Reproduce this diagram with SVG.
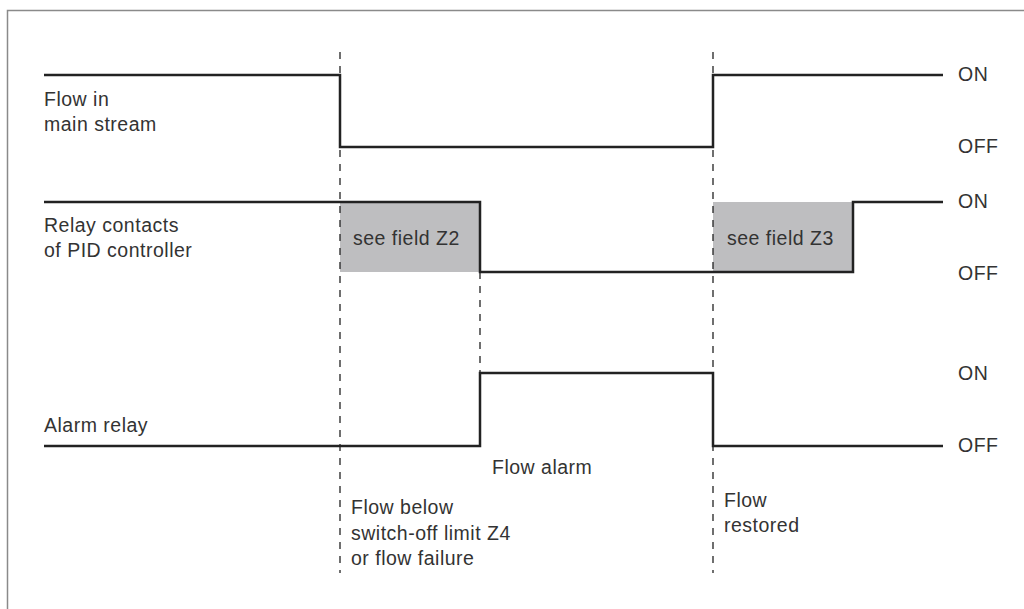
<svg xmlns="http://www.w3.org/2000/svg" width="1024" height="609" viewBox="0 0 1024 609">
<style>
.frame{fill:none;stroke:#8a8a8a;stroke-width:1.5}
.sig{fill:none;stroke:#222;stroke-width:2.5;stroke-linejoin:miter}
.dash{fill:none;stroke:#222;stroke-width:1.3;stroke-dasharray:7 7}
.zone{fill:#bebec0;stroke:none}
text{font-family:"Liberation Sans",Arial,sans-serif;font-size:19.5px;fill:#333;letter-spacing:0.5px}
</style>
<rect x="0" y="0" width="1024" height="609" fill="#fff"/>
<path class="frame" d="M7.5,620 V10.5 H1030"/>
<g id="zones">
<rect class="zone" x="340" y="202" width="140" height="70"/>
<rect class="zone" x="713" y="202" width="140" height="70"/>
</g>
<g id="connectors">
<line class="dash" x1="340" y1="52" x2="340" y2="573"/>
<line class="dash" x1="713" y1="52" x2="713" y2="573"/>
<line class="dash" x1="480" y1="202" x2="480" y2="373"/>
</g>
<g id="flow-signal">
<path class="sig" d="M44,75 H340 V147 H713 V75 H943"/>
<text x="44" y="106">Flow in</text>
<text x="44" y="131">main stream</text>
<text x="958" y="81">ON</text>
<text x="958" y="153">OFF</text>
</g>
<g id="relay-signal">
<path class="sig" d="M44,202 H480 V272 H853 V202 H943"/>
<text x="44" y="232">Relay contacts</text>
<text x="44" y="257">of PID controller</text>
<text x="353" y="245">see field Z2</text>
<text x="727" y="245">see field Z3</text>
<text x="958" y="208">ON</text>
<text x="958" y="280">OFF</text>
</g>
<g id="alarm-signal">
<path class="sig" d="M44,446 H480 V373 H713 V446 H943"/>
<text x="44" y="432">Alarm relay</text>
<text x="958" y="380">ON</text>
<text x="958" y="452">OFF</text>
</g>
<g id="annotations">
<text x="492" y="474">Flow alarm</text>
<text x="351" y="514">Flow below</text>
<text x="351" y="540">switch-off limit Z4</text>
<text x="351" y="565">or flow failure</text>
<text x="724" y="507">Flow</text>
<text x="724" y="532">restored</text>
</g>
</svg>
